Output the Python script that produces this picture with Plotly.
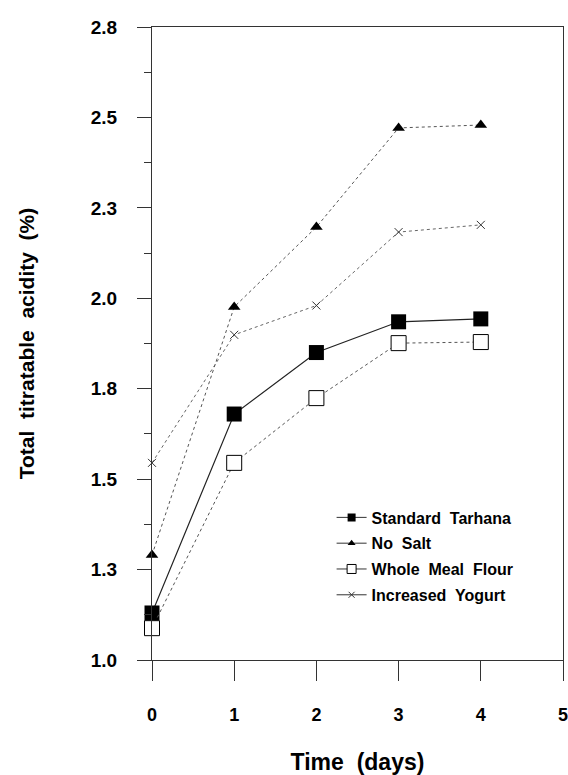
import plotly.graph_objects as go

days = [0, 1, 2, 3, 4]
standard = [1.13, 1.68, 1.85, 1.935, 1.943]
no_salt = [1.29, 1.976, 2.197, 2.471, 2.479]
whole_meal = [1.088, 1.545, 1.724, 1.876, 1.879]
yogurt = [1.545, 1.899, 1.98, 2.183, 2.203]

y_tickvals = [1.0, 1.25, 1.5, 1.75, 2.0, 2.25, 2.5, 2.75]
y_ticktext = ["1.0", "1.3", "1.5", "1.8", "2.0", "2.3", "2.5", "2.8"]
x_tickvals = [0, 1, 2, 3, 4, 5]

FONT = "Liberation Sans, Arial, Helvetica, sans-serif"

series = [
    ("Standard  Tarhana", standard, dict(symbol="square", size=15, color="black"),
     dict(color="#222", width=1.2, dash="solid"), dict(symbol="square", size=8, color="black")),
    ("No  Salt", no_salt, dict(symbol="triangle-up", size=11, color="black"),
     dict(color="#555", width=1, dash="dot"), dict(symbol="triangle-up", size=7, color="black")),
    ("Whole  Meal  Flour", whole_meal, dict(symbol="square", size=15, color="white", line=dict(color="black", width=1)),
     dict(color="#555", width=1, dash="dot"), dict(symbol="square", size=9, color="white", line=dict(color="black", width=1))),
    ("Increased  Yogurt", yogurt, dict(symbol="x-thin", size=8, color="black", line=dict(color="#333", width=1)),
     dict(color="#666", width=1, dash="dot"), dict(symbol="x-thin", size=6, color="black", line=dict(color="#333", width=1))),
]

fig = go.Figure()
for name, vals, mk, ln, lmk in series:
    fig.add_trace(go.Scatter(x=days, y=vals, mode="lines+markers", name=name,
                             marker=mk, line=ln, cliponaxis=False, showlegend=False))
for name, vals, mk, ln, lmk in series:
    fig.add_trace(go.Scatter(x=[None], y=[None], mode="lines+markers", name=name,
                             marker=lmk, line=dict(color="#333", width=1),
                             legendgroup=name, showlegend=True))

fig.update_layout(
    width=568, height=775,
    margin=dict(l=152, r=5, t=27, b=115, autoexpand=False),
    paper_bgcolor="white", plot_bgcolor="white",
    font=dict(family=FONT, color="black"),
    legend=dict(x=0.437, y=0.252, xanchor="left", yanchor="top",
                font=dict(size=16, family=FONT, weight="bold"),
                bgcolor="rgba(0,0,0,0)", tracegroupgap=2, traceorder="grouped"),
    xaxis=dict(range=[0, 5], tickvals=x_tickvals, ticks="outside", ticklen=20,
               tickcolor="#333", tickwidth=1, showgrid=False, zeroline=False,
               showline=True, linecolor="#333", linewidth=1, mirror=True,
               ticklabelstandoff=18, automargin=False, ticklabeloverflow="allow",
               tickfont=dict(size=18, family=FONT, weight="bold"),
               title=dict(text="Time  (days)", standoff=30,
                          font=dict(size=23, family=FONT, weight="bold"))),
    yaxis=dict(range=[1.0, 2.75], tickvals=y_tickvals, ticktext=y_ticktext,
               ticks="outside", ticklen=14, tickcolor="#333", tickwidth=1,
               minor=dict(dtick=0.125, tick0=1.0, ticks="outside", ticklen=7, tickcolor="#333"),
               showgrid=False, zeroline=False, showline=True, linecolor="#333",
               linewidth=1, mirror=True, ticklabelstandoff=16, automargin=False,
               ticklabeloverflow="allow",
               tickfont=dict(size=19, family=FONT, weight="bold"),
               title=dict(text="Total  titratable  acidity  (%)", standoff=50,
                          font=dict(size=21, family=FONT, weight="bold"))),
)

fig.write_html("out.html", config={"displayModeBar": False},
               post_script="document.body.style.margin='0';document.body.style.overflow='hidden';")
